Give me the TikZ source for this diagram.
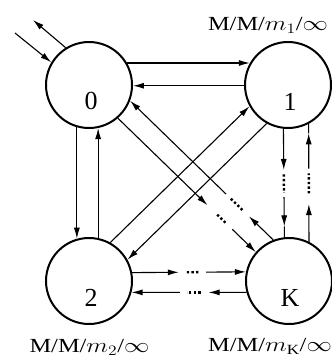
\documentclass[tikz,border=0pt]{standalone}
\usepackage{fontspec}
\setmainfont{Liberation Serif}
\usetikzlibrary{arrows.meta,calc}
\newcommand\dotlink[7]{%
  \draw[conn] (#1) -- ($(#1)!#3!(#2)$);
  \draw[dotsl] ($(#1)!#4!(#2)$) -- ($(#1)!#5!(#2)$);
  \draw[conn] ($(#1)!#6!(#2)$) -- ($(#1)!#7!(#2)$);
  \draw[plain] ($(#1)!#7!(#2)$) -- (#2);
}
\begin{document}
\begin{tikzpicture}[x=1pt,y=-1pt,
  state/.style={circle, draw, line width=2pt, minimum size=86pt, inner sep=0pt},
  conn/.style={line width=1.1pt, -{Latex[length=11pt,width=6pt]}},
  plain/.style={line width=1.1pt},
  dotsl/.style={line width=2.4pt, dash pattern=on 2.4pt off 2.2pt},
  lab/.style={font=\fontsize{20}{24}\selectfont, xscale=1.22},
  num/.style={font=\fontsize{26}{28}\selectfont}
]
\useasboundingbox (0,0) rectangle (332,362);
\node[state, label={[num, xshift=2pt, yshift=-16pt]center:0}] (n0) at (89,85) {};
\node[state, label={[num, xshift=2pt, yshift=-17pt]center:1}] (n1) at (288,85) {};
\node[state, label={[num, xshift=2pt, yshift=-17pt]center:2}] (n2) at (89,281) {};
\node[state, label={[num, xshift=1pt, yshift=-17pt]center:K}] (nK) at (289,281) {};

\node[lab] (L1) at (268,25) {M/M/$m_1$/$\infty$};
\node[lab] (L2) at (89.5,347) {M/M/$m_2$/$\infty$};
\node[lab] (LK) at (270,346) {M/M/$m_{\mathrm K}$/$\infty$};

% external arrival / departure
\coordinate (outE) at (33,20);
\coordinate (inS) at (15,33);
\draw[conn] (n0.122) -- (outE);
\draw[conn] (inS) -- (n0.149);

% 0 <-> 1
\draw[conn] (n0.30) -- (n1.150);
\draw[conn] (n1.181) -- (n0.-1);
% 0 <-> 2
\draw[conn] (n0.-106) -- (n2.106);
\draw[conn] (n2.78) -- (n0.-78);
% 1 <-> 2
\draw[conn] (n2.61) -- (n1.209);
\draw[conn] (n1.241) -- (n2.29);
% 0 <-> K
\dotlink{n0.-49}{nK.139}{0.65}{0.72}{0.79}{0.83}{1}
\dotlink{nK.111.5}{n0.-21.5}{0.17}{0.215}{0.30}{0.33}{1}
% 2 <-> K
\dotlink{n2.11.7}{nK.168.3}{0.41}{0.48}{0.60}{0.65}{1}
\dotlink{nK.195.7}{n2.-15.7}{0.33}{0.40}{0.52}{0.58}{1}
% 1 <-> K
\dotlink{n1.-96}{nK.96}{0.38}{0.42}{0.59}{0.63}{0.9}
\dotlink{nK.63}{n1.-62}{0.32}{0.41}{0.58}{0.62}{0.92}
\end{tikzpicture}
\end{document}
